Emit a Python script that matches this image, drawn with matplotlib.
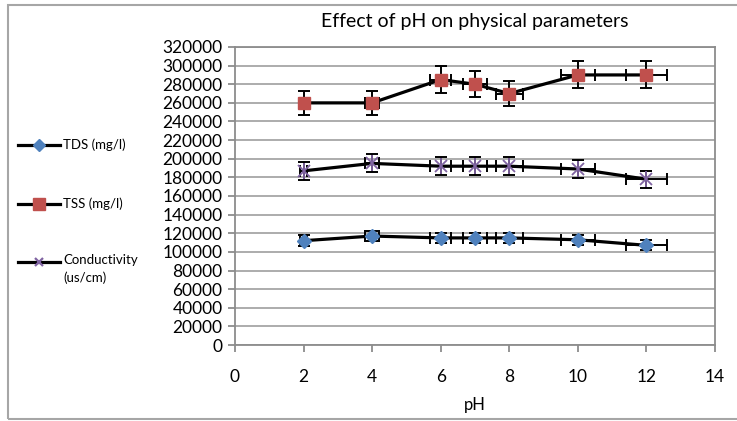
import matplotlib
matplotlib.use("Agg")
import matplotlib.pyplot as plt
from matplotlib.lines import Line2D
from matplotlib.patches import Rectangle
import numpy as np

plt.rcParams['font.family'] = ['Lato', 'DejaVu Sans']

ph = [2, 4, 6, 7, 8, 10, 12]
tds = [112000, 117000, 115000, 115000, 115000, 113000, 107000]
tss = [260000, 260000, 285000, 280000, 270000, 290000, 290000]
cond = [187000, 195000, 192000, 192000, 192000, 189000, 178000]
labels = ["TDS (mg/l)", "TSS (mg/l)", "Conductivity\n(us/cm)"]
err_frac = 0.05

W, H = 737, 421
fig = plt.figure(figsize=(W/100, H/100), dpi=100)
ax = fig.add_axes([235/W, 1-345/H, (715-235)/W, (345-47)/H])

x = np.array(ph, dtype=float)
styles = [("D", "#4f81bd", 7), ("s", "#c0504d", 8.5), ("star", "#8064a2", 11)]
legend_y = [145, 204, 262]

for vals, label, (mk, col, ms), ly in zip([tds, tss, cond], labels, styles, legend_y):
    y = np.array(vals, dtype=float)
    ax.plot(x, y, color='black', lw=2.3, zorder=3)
    ax.errorbar(x, y, xerr=err_frac*x, yerr=err_frac*y, fmt='none', ecolor='black',
                elinewidth=1.4, capsize=4, capthick=1.4, zorder=4)
    lx0, lx1 = 18/W, 60/W
    fy = 1 - ly/H
    fig.add_artist(Line2D([lx0, lx1], [fy, fy], color='black', lw=2.3, transform=fig.transFigure))
    if mk == "star":
        ax.plot(x, y, linestyle='none', marker='x', ms=ms*0.8, mec=col, mew=1.3, zorder=5)
        ax.plot(x, y, linestyle='none', marker='|', ms=ms, mec=col, mew=1.3, zorder=5)
        fig.add_artist(Line2D([(lx0+lx1)/2], [fy], linestyle='none', marker='x', ms=5.5,
                              mec=col, mew=1.6, transform=fig.transFigure))
    else:
        ax.plot(x, y, linestyle='none', marker=mk, ms=ms, mfc=col, mec=col, zorder=5)
        fig.add_artist(Line2D([(lx0+lx1)/2], [fy], linestyle='none', marker=mk,
                              ms=(6 if mk == 'D' else 9), mfc=col, mec=col,
                              transform=fig.transFigure))
    if '\n' in label:
        fig.text(63/W, 1 - (ly - 8)/H, label, ha='left', va='top', fontsize=9.5, linespacing=1.5)
    else:
        fig.text(63/W, fy, label, ha='left', va='center', fontsize=9.5)

ax.set_xlim(0, 14)
ax.set_ylim(0, 320000)
ax.set_xticks(np.arange(0, 15, 2))
ax.set_yticks(np.arange(0, 320001, 20000))
ax.grid(axis='y', color='#a6a6a6', lw=1.3)
ax.set_axisbelow(True)
for s in ax.spines.values():
    s.set_color('#8c8c8c')
    s.set_linewidth(1.3)
ax.tick_params(axis='both', direction='out', color='#8c8c8c', width=1.3, length=5,
               labelsize=12.5, labelcolor='black')
ax.tick_params(axis='x', pad=12)
ax.tick_params(axis='y', pad=4)
ax.set_xlabel("pH", fontsize=12, labelpad=9)
fig.text(475/W, 1-21/H, "Effect of pH on physical parameters", ha='center', va='center', fontsize=14)

fig.add_artist(Rectangle((8/W, 1-419/H), 1.0, (419-5)/H, transform=fig.transFigure,
                         fill=False, edgecolor='#a6a6a6', lw=1.5))

fig.savefig("out.png", dpi=100)
